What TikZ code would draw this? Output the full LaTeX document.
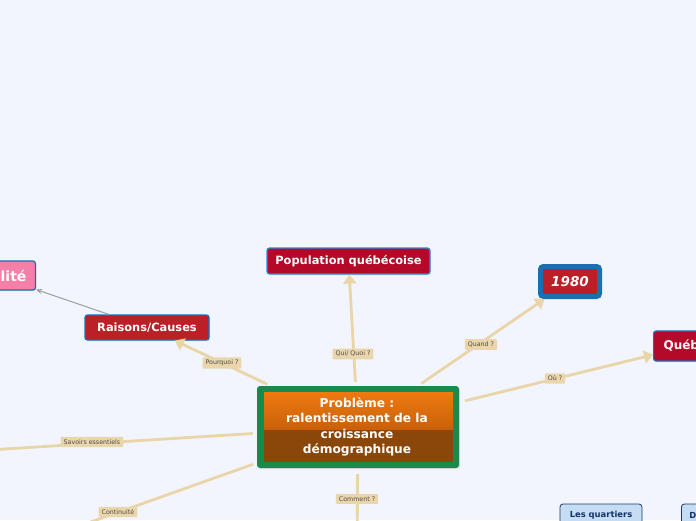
\documentclass[tikz,border=0pt]{standalone}
\usepackage{fontspec}
\setmainfont{DejaVu Sans}
\usetikzlibrary{arrows.meta,shadows}
\definecolor{bgcol}{RGB}{242,245,254}
\definecolor{linkcol}{RGB}{233,213,168}
\definecolor{lblcol}{RGB}{234,214,170}
\definecolor{probgreen}{RGB}{26,138,76}
\definecolor{probtop}{RGB}{238,122,16}
\definecolor{probmid}{RGB}{200,96,10}
\definecolor{probbrown}{RGB}{139,71,10}
\definecolor{crimson}{RGB}{178,10,40}
\definecolor{redbox}{RGB}{186,32,38}
\definecolor{bluebrd}{RGB}{25,112,175}
\definecolor{lightbrd}{RGB}{45,140,220}
\definecolor{pinkbox}{RGB}{244,128,168}
\definecolor{paleblue}{RGB}{197,221,242}
\definecolor{navy}{RGB}{35,55,95}
\definecolor{navytxt}{RGB}{20,50,110}
\begin{document}
\begin{tikzpicture}[x=1pt,y=-1pt,
  topic/.style={draw=bluebrd,line width=1.2pt,rounded corners=2.5pt,text=white,font=\bfseries\fontsize{11.4}{13}\selectfont,
    inner sep=0pt,drop shadow={opacity=0.18,shadow xshift=1pt,shadow yshift=-1.2pt}},
  sub/.style={draw=navy,line width=0.8pt,fill=paleblue,rounded corners=3pt,text=navytxt,font=\bfseries\fontsize{8.4}{10}\selectfont,
    inner sep=0pt,minimum height=22},
  link/.style={draw=linkcol,line width=2.8pt,shorten <=4pt},
  tip/.style={-{Triangle[length=9pt,width=13pt]}},
  lbl/.style={fill=lblcol,rounded corners=1pt,text=black!70,font=\fontsize{6.3}{7}\selectfont,inner xsep=3pt,inner ysep=2.6pt}]
\useasboundingbox (0,0) rectangle (696,520);
\clip (0,0) rectangle (696,520);
\fill[bgcol] (0,0) rectangle (696,520);

% central topic
\node[fill=probgreen,rounded corners=3pt,minimum width=202,minimum height=82,inner sep=0pt,
  drop shadow={opacity=0.18,shadow xshift=1pt,shadow yshift=-1.2pt}] (prob) at (358,427) {};
\shade[top color=probtop,bottom color=probmid] (264,392) rectangle (453,430);
\fill[probbrown] (264,430) rectangle (453,462);
\node[text=white,align=center,font=\bfseries\fontsize{12.2}{15.3}\selectfont] (probtxt) at (357,427)
  {Problème :\\ralentissement de la\\croissance\\démographique};

% main topics
\node[topic,fill=crimson,draw=lightbrd,minimum width=163,minimum height=26] (pop) at (348.5,261) {Population québécoise};
\node[topic,fill=redbox,minimum width=124,minimum height=25] (rais) at (147,327.5) {Raisons/Causes};
\node[topic,fill=redbox,draw=bluebrd,line width=5pt,rounded corners=3pt,minimum width=59,minimum height=30,
  font=\bfseries\itshape\fontsize{13.5}{15}\selectfont] (annee) at (570,281.5) {1980};
\node[topic,fill=crimson,inner xsep=10pt,minimum height=30,anchor=west,font=\bfseries\fontsize{12}{14}\selectfont] (qc) at (653,346) {Québec};
\node[topic,fill=pinkbox,minimum width=81,minimum height=29,anchor=east,font=\bfseries\fontsize{14}{16}\selectfont] (nat) at (36,275.5) {Natalité};

% subtopics at the bottom
\node[sub,minimum width=82] (quart) at (601,515) {Les quartiers};
\node[sub,minimum width=23,anchor=west] (dbox) at (681,515) {D};

% free ends
\coordinate (sav) at (-60,453);
\coordinate (cont) at (40,540);
\coordinate (comm) at (357,560);

% links
\draw[link,tip] (prob) -- (rais);
\draw[link,tip] (prob) -- (pop);
\draw[link,tip] (prob) -- (annee);
\draw[link,tip,shorten <=6pt] (prob) -- (qc);
\draw[link] (prob) -- (sav);
\draw[link] (prob) -- (cont);
\draw[link,shorten <=6pt] (prob) -- (comm);
\draw[-{Stealth[length=6pt,width=5pt]},draw=gray!75,fill=gray!75,line width=1pt] (rais) -- (nat);

% link labels
\node[lbl] (lpq) at (222,363) {Pourquoi ?};
\node[lbl] (lqui) at (353,354) {Qui/ Quoi ?};
\node[lbl] (lqd) at (481,344.5) {Quand ?};
\node[lbl] (lou) at (555,378.5) {Où ?};
\node[lbl] (lsav) at (92,442) {Savoirs essentiels};
\node[lbl] (lcont) at (118,512) {Continuité};
\node[lbl] (lcomm) at (357,499) {Comment ?};
\end{tikzpicture}
\end{document}
